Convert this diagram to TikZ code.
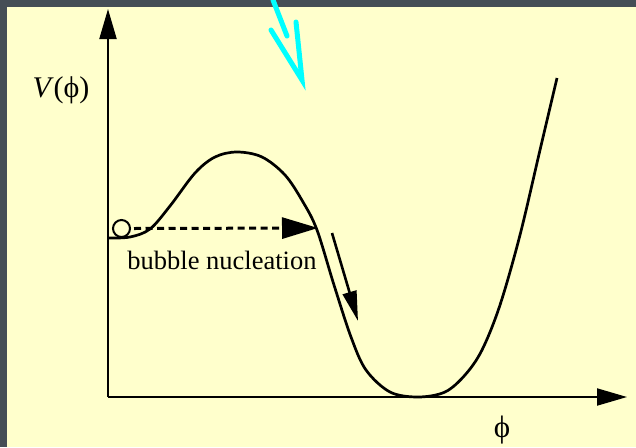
\documentclass[tikz,border=0pt]{standalone}
\usepackage{fontspec}
\setmainfont{Liberation Serif}
\usetikzlibrary{arrows.meta}
\definecolor{bgcream}{RGB}{255,255,204}
\definecolor{framegray}{RGB}{69,78,86}
\definecolor{markcyan}{RGB}{0,255,255}
\begin{document}
\begin{tikzpicture}[x=1pt,y=-1pt,
  axisline/.style={line width=2pt, -{Triangle[length=30pt,width=17pt]}},
  potline/.style={line width=2.7pt, line join=round},
  dasharrow/.style={line width=3pt, dash pattern=on 7pt off 4.5pt, -{Triangle[length=36pt,width=21pt]}},
  rollarrow/.style={line width=2.6pt, -{Triangle[length=30pt,width=14pt]}},
  penmark/.style={markcyan, line width=5pt, line cap=round},
  labeltext/.style={inner sep=0pt, font=\fontsize{26.5}{26.5}\selectfont}]
\fill[framegray] (0,0) rectangle (636,447);
\fill[bgcream] (7,7) rectangle (636,447);
\useasboundingbox (0,0) rectangle (636,447);
% axes
\coordinate (O) at (108,397);
\coordinate (ytop) at (108,9);
\coordinate (xend) at (627,397);
\draw[axisline] (O) -- (ytop);
\draw[axisline] (O) -- (xend);
\node[labeltext, font=\fontsize{30}{30}\selectfont] (vlab) at (61,90) {\textit{V}(ϕ)};
\node[labeltext, font=\fontsize{31}{31}\selectfont] (phlab) at (502,430) {ϕ};
% potential
\draw[potline] plot[smooth, tension=0.55] coordinates {(108,238) (130,237) (150,229) (170,206) (195,173) (215,157) (237,152) (262,157) (285,175) (303,202) (317,230) (334,285) (351,337) (366,370) (390,392) (418,397) (445,392) (465,375) (482,350) (500,305) (520,235) (540,150) (557,78)};
% ball
\node[circle, draw, line width=2pt, minimum size=17pt, inner sep=0pt] (ball) at (121.5,228.5) {};
\coordinate (nuc) at (318,228);
\draw[dasharrow] (ball.east) ++(3,0) -- (nuc);
\node[labeltext] (bub) at (222,260) {bubble nucleation};
\coordinate (r1) at (332,233);
\coordinate (r2) at (358,321);
\draw[rollarrow] (r1) -- (r2);
% cyan pen mark
\coordinate (c0) at (273,0);
\coordinate (c1) at (287,36);
\coordinate (ctip) at (302,80);
\coordinate (cw1) at (271,30);
\coordinate (cw2) at (296,22);
\draw[penmark] (c0) -- (c1);
\draw[penmark] (cw1) -- (ctip) -- (cw2);
\end{tikzpicture}
\end{document}
